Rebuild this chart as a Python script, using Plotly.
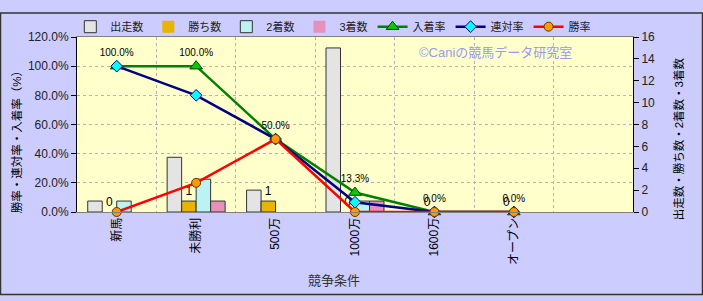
import plotly.graph_objects as go

categories = ["新馬", "未勝利", "500万", "1000万", "1600万", "オープン"]
starts = [1, 5, 2, 15, 0, 0]
wins = [0, 1, 1, 0, 0, 0]
seconds = [1, 3, 0, 1, 0, 0]
thirds = [0, 1, 0, 1, 0, 0]
win_rate = [0.0, 0.20, 0.50, 0.0, 0.0, 0.0]
rentai_rate = [1.0, 0.80, 0.50, 0.0667, 0.0, 0.0]
place_rate = [1.0, 1.0, 0.50, 0.1333, 0.0, 0.0]

FONT = "Liberation Sans, Arial, Noto Sans CJK JP"
W, H = 703, 301
ML, MR, MT, MB = 77, 70, 26, 88.5
PW, PH = W - ML - MR, H - MT - MB


def bar_line(vals):
    return dict(color="#333333", width=[1 if v > 0 else 0 for v in vals])


fig = go.Figure()

fig.add_trace(go.Bar(name="出走数", x=categories, y=starts, yaxis="y",
                     marker=dict(color="#E4E4E4", line=bar_line(starts))))
fig.add_trace(go.Bar(name="勝ち数", x=categories, y=wins, yaxis="y",
                     marker=dict(color="#E8B400", line=bar_line(wins)),
                     text=[str(v) for v in wins], textposition="outside",
                     textfont=dict(size=12, color="#000000"), cliponaxis=False))
fig.add_trace(go.Bar(name="2着数", x=categories, y=seconds, yaxis="y",
                     marker=dict(color="#BDF2F2", line=bar_line(seconds))))
fig.add_trace(go.Bar(name="3着数", x=categories, y=thirds, yaxis="y",
                     marker=dict(color="#E890BC", line=bar_line(thirds))))

fig.add_trace(go.Scatter(name="入着率", x=categories, y=place_rate, yaxis="y2",
                         mode="lines+markers+text",
                         line=dict(color="#008000", width=2.5),
                         marker=dict(symbol="triangle-up", size=11, color="#00CC00",
                                     line=dict(color="#004000", width=1)),
                         text=[f"{v*100:.1f}%" for v in place_rate],
                         textposition="top center",
                         textfont=dict(size=10, color="#000000"), cliponaxis=False))
fig.add_trace(go.Scatter(name="連対率", x=categories, y=rentai_rate, yaxis="y2",
                         mode="lines+markers",
                         line=dict(color="#000080", width=2.5),
                         marker=dict(symbol="diamond", size=9, color="#00FFFF",
                                     line=dict(color="#000080", width=1)),
                         cliponaxis=False))
fig.add_trace(go.Scatter(name="勝率", x=categories, y=win_rate, yaxis="y2",
                         mode="lines+markers",
                         line=dict(color="#FF0000", width=2.5),
                         marker=dict(symbol="circle", size=9, color="#FF9900",
                                     line=dict(color="#663300", width=1)),
                         cliponaxis=False))

fig.update_layout(
    width=W, height=H,
    margin=dict(l=ML, r=MR, t=MT, b=MB, pad=0),
    paper_bgcolor="#CCCCFF", plot_bgcolor="#FFFFCC",
    font=dict(family=FONT, size=12, color="#222222"),
    barmode="group", bargap=0.27, bargroupgap=0,
    showlegend=True,
    legend=dict(orientation="h", x=-0.012, xanchor="left", y=1 + 11 / PH, yanchor="middle",
                bgcolor="rgba(0,0,0,0)", font=dict(size=11), itemwidth=30,
                traceorder="normal"),
    xaxis=dict(type="category", range=[-0.5, 6.5], tickson="boundaries",
               showgrid=True, gridcolor="#B4B4B4", griddash="dot", gridwidth=1,
               ticks="", tickangle=-90, tickfont=dict(size=12, color="#000000"),
               showline=True, linecolor="#808080", mirror=True),
    yaxis=dict(side="right", range=[0, 16], dtick=2, showgrid=False,
               ticks="outside", ticklen=5, tickcolor="#000000",
               showline=True, linecolor="#000000", zeroline=False,
               tickfont=dict(size=12, color="#222222")),
    yaxis2=dict(overlaying="y", side="left", range=[0, 1.2], dtick=0.2,
                tickformat=".1%", showgrid=True, gridcolor="#B4B4B4", griddash="dot",
                ticks="outside", ticklen=5, tickcolor="#000000",
                showline=True, linecolor="#000000", zeroline=False,
                tickfont=dict(size=12, color="#222222")),
    annotations=[
        dict(text="勝率・連対率・入着率（%）", textangle=-90, xref="paper", yref="paper",
             x=(16 - ML) / PW, y=(MT + PH - 135) / PH,
             showarrow=False, font=dict(size=11.5, color="#000000"),
             xanchor="center", yanchor="middle"),
        dict(text="出走数・勝ち数・2着数・3着数", textangle=-90, xref="paper", yref="paper",
             x=(678 - ML) / PW, y=(MT + PH - 135) / PH,
             showarrow=False, font=dict(size=11.5, color="#000000"),
             xanchor="center", yanchor="middle"),
        dict(text="競争条件", xref="paper", yref="paper",
             x=(334 - ML) / PW, y=(MT + PH - 285) / PH,
             showarrow=False, font=dict(size=13, color="#333333"),
             xanchor="center", yanchor="middle"),
        dict(text="©Caniの競馬データ研究室", xref="paper", yref="paper",
             x=(495 - ML) / PW, y=(MT + PH - 43) / PH,
             showarrow=False, font=dict(size=13, color="#9A9AF0"),
             xanchor="center", yanchor="middle"),
    ],
    shapes=[
        dict(type="rect", xref="paper", yref="paper",
             x0=(-ML + 0.5) / PW, x1=1 + (MR - 0.5) / PW,
             y0=(-MB + 0.5) / PH, y1=1 + (MT - 0.5) / PH,
             line=dict(color="#333333", width=1.5), layer="below"),
    ],
)

fig.write_html("out.html")
